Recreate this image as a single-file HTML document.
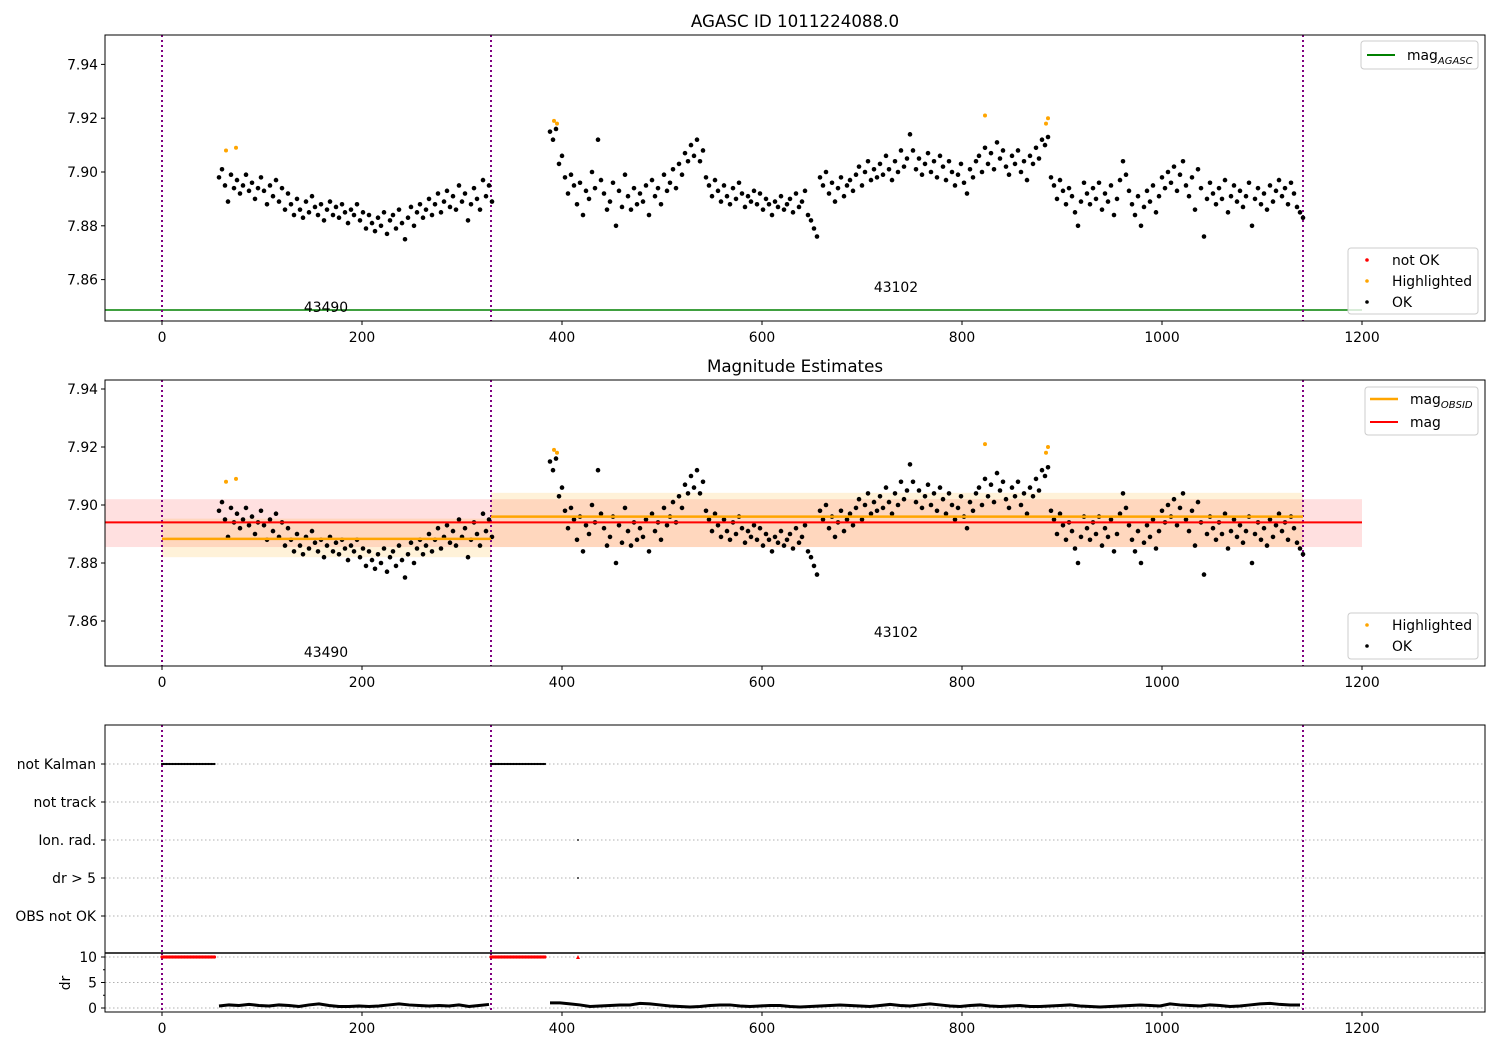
<!DOCTYPE html>
<html><head><meta charset="utf-8">
<style>
body{margin:0;background:#fff;}
svg{display:block;font-family:"DejaVu Sans","Liberation Sans",sans-serif;}
text{font-size:13.9px;fill:#000;}
.ttl{font-size:16.7px;}
</style></head>
<body>
<svg id="fig" width="1500" height="1050" xmlns="http://www.w3.org/2000/svg"></svg>
<script>
// ---- data (magnitudes in thousandths above 7.800) ----
const seg1Start = 57, seg1Step = 3;
const seg1Mag = [98,101,95,89,99,94,97,92,95,99,93,96,90,94,98,93,88,95,91,97,89,94,86,92,88,84,90,86,83,89,85,91,87,84,88,82,86,89,84,87,83,88,85,81,86,84,88,82,85,79,84,81,78,83,80,85,77,82,84,79,86,81,75,83,87,80,85,88,83,86,90,84,88,92,85,89,93,87,91,86,95,89,92,82,88,94,90,86,97,91,95,89];
const seg2Start = 388, seg2Step = 3;
const seg2Mag = [115,112,116,103,106,98,92,99,95,88,
96,84,93,90,100,94,112,97,92,86,
89,96,80,93,87,99,91,86,94,88,
92,89,95,84,97,91,94,88,99,93,
96,101,94,103,99,107,104,110,106,112,
104,108,98,95,91,97,93,89,95,91,
88,94,90,96,92,87,91,89,93,88,
92,86,90,88,84,89,87,91,86,88,
90,85,92,87,89,93,84,82,79,76,
98,95,100,92,96,89,94,98,91,95,
97,93,99,102,95,100,104,97,101,98,
103,99,106,101,97,104,100,108,102,105,
114,108,101,105,99,103,107,100,104,98,
106,102,97,104,100,95,99,103,96,92,
101,98,104,106,100,109,103,107,101,111,
105,108,102,99,106,103,108,100,104,97,
106,103,109,105,112,110,113,98,95,90,
97,93,88,94,91,85,80,89,96,92,
88,94,90,96,86,92,89,95,84,90,
97,104,99,93,88,84,91,80,87,93,
89,95,85,91,98,94,100,96,102,93,
99,104,95,91,98,86,101,94,76,90,
96,92,88,94,90,97,85,91,95,89,
93,87,91,96,80,90,94,88,92,86,
95,89,93,97,91,94,88,96,92,87,
85,83];
const hiX = [64,74,392,395,823,884,886];
const hiMag = [7.908,7.909,7.919,7.918,7.921,7.918,7.920];
const magAgasc = 7.8487;
const magAll = 7.894, magAllLo = 7.8855, magAllHi = 7.902;
const obsidStart = [0,329], obsidEnd = [329,1141];
const obsidMag = [7.8883,7.896];
const obsidLo = [7.882,7.8855], obsidHi = [7.8953,7.9042];
const obsLines = [0,329,1141];
const obsNames = ['43490','43102'];
const obsLabelX = [164,734];
const drSeg1Start = 57, drSeg2Start = 388, drStep = 10;
const drSeg1 = [0.4,0.6,0.5,0.7,0.5,0.4,0.6,0.5,0.3,0.6,0.8,0.5,0.3,0.3,0.4,0.3,0.4,0.6,0.8,0.6,0.5,0.4,0.5,0.4,0.6,0.3,0.5,0.7];
const drSeg2 = [1.0,1.0,0.8,0.6,0.3,0.4,0.5,0.6,0.6,0.9,0.8,0.6,0.4,0.3,0.2,0.3,0.5,0.6,0.6,0.4,0.3,0.4,0.5,0.5,0.3,0.2,0.3,0.4,0.5,0.6,0.5,0.4,0.3,0.5,0.7,0.5,0.4,0.6,0.8,0.6,0.4,0.3,0.5,0.6,0.4,0.3,0.4,0.5,0.3,0.3,0.4,0.5,0.6,0.4,0.3,0.2,0.3,0.4,0.5,0.6,0.5,0.4,0.8,0.6,0.5,0.4,0.6,0.5,0.3,0.4,0.6,0.8,0.9,0.7,0.6,0.6];
const flagNames = ['not Kalman','not track','Ion. rad.','dr > 5','OBS not OK'];
const notKalmanStart = [0,329], notKalmanEnd = [53,384];
const singleFlagX = [416,416];
const singleFlagRow = [2,3];
const xTicks = [0,200,400,600,800,1000,1200];
const magTicks = [7.86,7.88,7.90,7.92,7.94];
const drTicks = [0,5,10];

// ---- scales ----
const X0 = 105, X1 = 1485, XMIN = -57, XMAX = 1323;
function sx(x){ return X0 + (x - XMIN) * (X1 - X0) / (XMAX - XMIN); }
function yTop(v){ return 172 - (v - 7.90) * 2690; }
function yMid(v){ return 505 - (v - 7.90) * 2900; }
function yFlag(i){ return 764 + i * 38; }
function yDr(v){ return 1008 - v * 5.1; }
const NS = 'http://www.w3.org/2000/svg';
const fig = document.getElementById('fig');
function mk(parent, tag, attrs){ const e = document.createElementNS(NS, tag); for (const k in attrs) e.setAttribute(k, attrs[k]); parent.appendChild(e); return e; }
function txt(parent, x, y, s, anchor){ const t = mk(parent, 'text', {x:x, y:y, 'text-anchor':anchor||'start'}); t.textContent = s; return t; }

function clipRect(id, y0, y1){ const d = mk(fig,'clipPath',{id:id}); mk(d,'rect',{x:X0,y:y0,width:X1-X0,height:y1-y0}); }
clipRect('c1',35,321); clipRect('c2',380,666); clipRect('c3',725,953); clipRect('c4',953,1012);

function xAxis(g, yb, labels){
  xTicks.forEach(v=>{
    const t = mk(g,'line',{x1:sx(v),x2:sx(v),y1:yb,y2:yb+4,stroke:'#000'});
    
    
    if (labels){
      const l = txt(g, sx(v), yb+21, String(v), 'middle');
      
      
    }
  });
}
function magAxis(g, yf){
  magTicks.forEach(v=>{
    mk(g,'line',{x1:X0-4,x2:X0,y1:yf(v),y2:yf(v),stroke:'#000'});
    const l = txt(g, 98, yf(v)+5, v.toFixed(2), 'end');
    
    
  });
}
function obsVLines(g, y0, y1, clip){
  obsLines.forEach(x=>{
    const l = mk(g,'line',{x1:sx(x),x2:sx(x),y1:y0,y2:y1,stroke:'#800080','stroke-width':2,'stroke-dasharray':'2,3','clip-path':clip});
    
    
  });
}
function scatter(g, yf, clip){
  const pts = mk(g,'g',{'clip-path':clip});
  
  
  seg1Mag.forEach((m,i)=>{ const c = mk(pts,'circle',{cx:sx(seg1Start+i*seg1Step),cy:yf(7.8+m/1000),r:2.3,fill:'#000'});  });
  seg2Mag.forEach((m,i)=>{ const c = mk(pts,'circle',{cx:sx(seg2Start+i*seg2Step),cy:yf(7.8+m/1000),r:2.3,fill:'#000'});  });
  hiX.forEach((x,i)=>{ const c = mk(pts,'circle',{cx:sx(x),cy:yf(hiMag[i]),r:2,fill:'#ffa500'});  });
}
function legendBox(g, x, y, w, h){
  const r = mk(g,'rect',{x:x,y:y,width:w,height:h,rx:3,fill:'#fff','fill-opacity':0.8,stroke:'#ccc'});
  
  
}

// ---- Panel 1 ----
const p1 = mk(fig,'g',{});  
const t1 = txt(p1, 795, 27, 'AGASC ID 1011224088.0', 'middle'); t1.setAttribute('class','ttl');  
const ag = mk(p1,'line',{x1:sx(XMIN),x2:sx(1200),y1:yTop(magAgasc),y2:yTop(magAgasc),stroke:'#008000','stroke-width':1.5,'clip-path':'url(#c1)'});
 
obsVLines(p1,35,321,'url(#c1)');
scatter(p1,yTop,'url(#c1)');
obsNames.forEach((n,i)=>{ const l = txt(p1, sx(obsLabelX[i]), i==0?312:292, n, 'middle');   });
mk(p1,'rect',{x:X0,y:35,width:X1-X0,height:286,fill:'none',stroke:'#000'});
xAxis(p1,321,true); magAxis(p1,yTop);
legendBox(p1,1361,41,117,28);
mk(p1,'line',{x1:1367,x2:1395,y1:55,y2:55,stroke:'#008000','stroke-width':2});
const lg1 = mk(p1,'text',{x:1407,y:60});  
lg1.innerHTML = 'mag<tspan dy="4" font-size="10" font-style="italic">AGASC</tspan>';
legendBox(p1,1348,248,130,66);
[['#f00','not OK',260],['#ffa500','Highlighted',281],['#000','OK',302]].forEach(e=>{
  mk(p1,'circle',{cx:1367,cy:e[2],r:1.8,fill:e[0]});
  const l = txt(p1,1392,e[2]+5,e[1]);  
});

// ---- Panel 2 ----
const p2 = mk(fig,'g',{});  
const t2 = txt(p2, 795, 372, 'Magnitude Estimates', 'middle'); t2.setAttribute('class','ttl');  
const band = mk(p2,'rect',{x:sx(XMIN),y:yMid(magAllHi),width:sx(1200)-sx(XMIN),height:yMid(magAllLo)-yMid(magAllHi),fill:'#ff0000','fill-opacity':0.12,'clip-path':'url(#c2)'});
 
obsidStart.forEach((s,i)=>{
  const b = mk(p2,'rect',{x:sx(s),y:yMid(obsidHi[i]),width:sx(obsidEnd[i])-sx(s),height:yMid(obsidLo[i])-yMid(obsidHi[i]),fill:'#ffa500','fill-opacity':0.15});
   
});
obsVLines(p2,380,666,'url(#c2)');
scatter(p2,yMid,'url(#c2)');
obsidStart.forEach((s,i)=>{
  const l = mk(p2,'line',{x1:sx(s),x2:sx(obsidEnd[i]),y1:yMid(obsidMag[i]),y2:yMid(obsidMag[i]),stroke:'#ffa500','stroke-width':2.5});
   
});
const ml = mk(p2,'line',{x1:sx(XMIN),x2:sx(1200),y1:yMid(magAll),y2:yMid(magAll),stroke:'#f00','stroke-width':2,'clip-path':'url(#c2)'});
 
obsNames.forEach((n,i)=>{ const l = txt(p2, sx(obsLabelX[i]), i==0?657:637, n, 'middle');   });
mk(p2,'rect',{x:X0,y:380,width:X1-X0,height:286,fill:'none',stroke:'#000'});
xAxis(p2,666,true); magAxis(p2,yMid);
legendBox(p2,1365,387,113,48);
mk(p2,'line',{x1:1370,x2:1398,y1:399,y2:399,stroke:'#ffa500','stroke-width':2.5});
const lg2 = mk(p2,'text',{x:1410,y:404});  
lg2.innerHTML = 'mag<tspan dy="4" font-size="10" font-style="italic">OBSID</tspan>';
mk(p2,'line',{x1:1370,x2:1398,y1:422,y2:422,stroke:'#f00','stroke-width':2});
const lg3 = txt(p2,1410,427,'mag');  
legendBox(p2,1348,613,130,46);
[['#ffa500','Highlighted',625],['#000','OK',646]].forEach(e=>{
  mk(p2,'circle',{cx:1367,cy:e[2],r:1.8,fill:e[0]});
  const l = txt(p2,1392,e[2]+5,e[1]);  
});

// ---- Panel 3: flags ----
const p3 = mk(fig,'g',{});  
flagNames.forEach((n,i)=>{
  mk(p3,'line',{x1:X0,x2:X1,y1:yFlag(i),y2:yFlag(i),stroke:'#b0b0b0','stroke-dasharray':'1.5,2.5'});
  mk(p3,'line',{x1:X0-4,x2:X0,y1:yFlag(i),y2:yFlag(i),stroke:'#000'});
  const l = txt(p3,96,yFlag(i)+5,n,'end');  
});
obsVLines(p3,725,953,'url(#c3)');
notKalmanStart.forEach((s,i)=>{
  for (let x = s; x <= notKalmanEnd[i]; x += 1.5){
    const c = mk(p3,'circle',{cx:sx(x),cy:yFlag(0),r:1.1,fill:'#000'});
    
  }
});
singleFlagX.forEach((x,i)=>{
  const c = mk(p3,'circle',{cx:sx(x),cy:yFlag(singleFlagRow[i]),r:1,fill:'#333'});
  
});
mk(p3,'rect',{x:X0,y:725,width:X1-X0,height:228,fill:'none',stroke:'#000'});

// ---- Panel 4: dr ----
const p4 = mk(fig,'g',{});  
drTicks.forEach(v=>{
  mk(p4,'line',{x1:X0,x2:X1,y1:yDr(v),y2:yDr(v),stroke:'#b0b0b0','stroke-dasharray':'1.5,2.5'});
  mk(p4,'line',{x1:X0-4,x2:X0,y1:yDr(v),y2:yDr(v),stroke:'#000'});
  const l = txt(p4,97,yDr(v)+5,String(v),'end');  
});
[2.5,7.5].forEach(v=>mk(p4,'line',{x1:X0-2,x2:X0,y1:yDr(v),y2:yDr(v),stroke:'#000'}));
const yl = mk(p4,'text',{x:70,y:983,'text-anchor':'middle',transform:'rotate(-90 70 983)'}); yl.textContent='dr';
 
obsVLines(p4,953,1012,'url(#c4)');
notKalmanStart.forEach((s,i)=>{
  for (let x = s; x <= notKalmanEnd[i]; x += 1.5){
    const c = mk(p4,'circle',{cx:sx(x),cy:yDr(10),r:1.6,fill:'#f00'});
    
  }
});
const tri = mk(p4,'path',{d:`M${sx(416)-2},${yDr(10)+2}L${sx(416)+2},${yDr(10)+2}L${sx(416)},${yDr(10)-2}Z`,fill:'#f00'});
 
[[drSeg1Start,drSeg1],[drSeg2Start,drSeg2]].forEach(seg=>{
  const pts = seg[1].map((v,i)=>sx(seg[0]+i*drStep)+','+yDr(v)).join(' ');
  const pl = mk(p4,'polyline',{points:pts,fill:'none',stroke:'#000','stroke-width':3});
   
});
mk(p4,'rect',{x:X0,y:953,width:X1-X0,height:59,fill:'none',stroke:'#000'});
mk(p4,'line',{x1:X0,x2:X1,y1:953,y2:953,stroke:'#000','stroke-width':1.5});
xAxis(p4,1012,true);
</script>
</body></html>
